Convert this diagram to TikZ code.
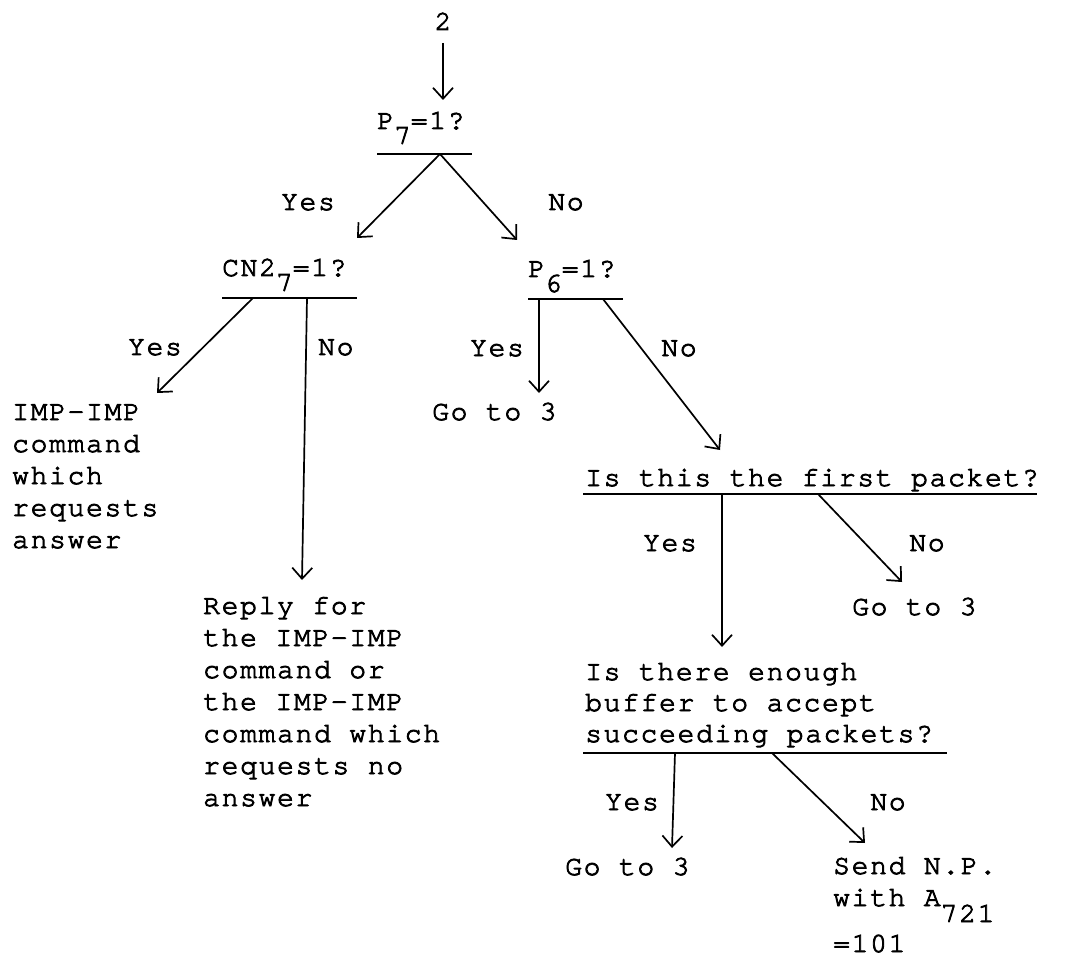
\documentclass[tikz,border=0pt]{standalone}
\usepackage{fontspec}
\setmonofont{texgyrecursor-regular.otf}[LetterSpace=6,FakeBold=3,Ligatures=NoCommon]
\usetikzlibrary{arrows.meta}
\newcommand\lowr[2][15pt]{\smash{\raisebox{-#1}{#2}}}
\begin{document}
\begin{tikzpicture}[x=1pt,y=-1pt,
  txt/.style={inner sep=0pt, font=\ttfamily\fontsize{28}{32}\selectfont, align=left, anchor=base west},
  lbl/.style={inner sep=0pt, font=\ttfamily\fontsize{28}{32}\selectfont, anchor=base},
  bar/.style={line width=1.7pt},
  arr/.style={line width=1.7pt, -{Straight Barb[length=11pt,width=20pt,line width=1.7pt]}}]
\fill[white] (0,0) rectangle (1065,957);
\useasboundingbox (0,0) rectangle (1065,957);

% texts (multi-line nodes are anchored at the baseline of their last line)
\node[lbl] (two) at (443,30) {2};
\node[txt] (p7) at (377,129) {P\lowr{7}=1?};
\node[lbl] (yes1) at (308,210) {Yes};
\node[lbl] (no1) at (566,210) {No};
\node[txt] (cn2) at (222,276) {CN2\lowr{7}=1?};
\node[txt] (p6) at (528,277) {P\lowr{6}=1?};
\node[lbl] (yes2) at (155,355) {Yes};
\node[txt] (no2) at (318,355) {No};
\node[lbl] (yes3) at (497,356) {Yes};
\node[lbl] (no3) at (679,356) {No};
\node[txt] (imp) at (12,548) {IMP-IMP\\command\\which\\requests\\answer};
\node[txt] (go1) at (432,420) {Go to 3};
\node[txt] (first) at (585,486) {Is this the first packet?};
\node[lbl] (yes4) at (670,551) {Yes};
\node[lbl] (no4) at (927,551) {No};
\node[txt] (go2) at (852,615) {Go to 3};
\node[txt] (reply) at (203,806) {Reply for\\the IMP-IMP\\command or\\the IMP-IMP\\command which\\requests no\\answer};
\node[txt,font=\ttfamily\fontsize{28}{31}\selectfont] (buf) at (585,742) {Is there enough\\buffer to accept\\succeeding packets?};
\node[lbl] (yes5) at (632,810) {Yes};
\node[lbl] (no5) at (888,810) {No};
\node[txt] (go3) at (565,875) {Go to 3};
\node[txt] (send) at (833,952) {Send N.P.\\with A\lowr[16pt]{721}\\[14pt]=101};

% connector points
\coordinate (twoout) at (443,43);   \coordinate (p7in) at (443,100);
\coordinate (p7L) at (377,154);     \coordinate (p7R) at (472,154);
\coordinate (p7o) at (440,154);
\coordinate (cn2in) at (357,238);   \coordinate (p6in) at (517,240);
\coordinate (cn2L) at (222,298);    \coordinate (cn2R) at (357,298);
\coordinate (cn2y) at (253,298);    \coordinate (impin) at (157,393);
\coordinate (cn2n) at (307,298);    \coordinate (replyin) at (302,580);
\coordinate (p6L) at (528,299);     \coordinate (p6R) at (623,299);
\coordinate (p6y) at (539,299);     \coordinate (go1in) at (539,393);
\coordinate (p6n) at (603,299);     \coordinate (firstin) at (720,450);
\coordinate (fL) at (583,494);      \coordinate (fR) at (1037,494);
\coordinate (fy) at (722,494);      \coordinate (bufin) at (722,647);
\coordinate (fn) at (818,494);      \coordinate (go2in) at (902,582);
\coordinate (bL) at (583,753);      \coordinate (bR) at (947,753);
\coordinate (by) at (675,753);      \coordinate (go3in) at (672,848);
\coordinate (bn) at (772,753);      \coordinate (sendin) at (865,843);

% bars
\draw[bar] (p7L) -- (p7R);
\draw[bar] (cn2L) -- (cn2R);
\draw[bar] (p6L) -- (p6R);
\draw[bar] (fL) -- (fR);
\draw[bar] (bL) -- (bR);

% connectors
\draw[arr] (twoout) -- (p7in);
\draw[arr] (p7o) -- (cn2in);
\draw[arr] (p7o) -- (p6in);
\draw[arr] (cn2y) -- (impin);
\draw[arr] (cn2n) -- (replyin);
\draw[arr] (p6y) -- (go1in);
\draw[arr] (p6n) -- (firstin);
\draw[arr] (fy) -- (bufin);
\draw[arr] (fn) -- (go2in);
\draw[arr] (by) -- (go3in);
\draw[arr] (bn) -- (sendin);
\end{tikzpicture}
\end{document}
